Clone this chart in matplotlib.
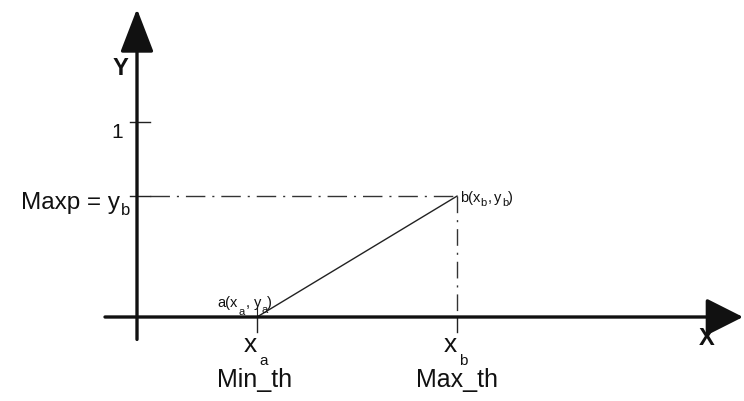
import matplotlib
matplotlib.use("Agg")
import matplotlib.pyplot as plt
from matplotlib.transforms import offset_copy

plt.rcParams['font.family'] = ['Liberation Sans', 'DejaVu Sans']

# data
x_a, y_a = 0.3, 0.0
x_b, y_b = 0.8, 0.62
y_one = 1.0

W, H = 744, 402
fig = plt.figure(figsize=(W/100, H/100), dpi=100)
ax = fig.add_axes([0, 0, 1, 1])
# origin at pixel (137,318); 400 px per x unit, 195 px per y unit
ax.set_xlim(-137/400, (W-137)/400)
ax.set_ylim(-(H-318)/195, 318/195)
ax.axis('off')

renderer = fig.canvas.get_renderer()


def rich(x, y, pieces, ha='left', color='#111111'):
    """pieces: (text, fontsize, dy_px, gap_px_after)"""
    arts = []
    dx = 0.0
    for s, size, dy, gap in pieces:
        t = ax.text(x, y, s, fontsize=size, va='baseline', ha='left', color=color,
                    transform=offset_copy(ax.transData, fig=fig, x=dx, y=dy, units='dots'))
        w = t.get_window_extent(renderer).width
        arts.append((t, dx, dy))
        dx += w + gap
    total = dx
    shift = {'left': 0, 'center': -total/2, 'right': -total}[ha]
    if shift:
        for t, d, dy in arts:
            t.set_transform(offset_copy(ax.transData, fig=fig, x=d + shift, y=dy, units='dots'))


axcol = '#111111'
# X axis
ax.annotate('', xy=(1.515, 0), xytext=(-0.08, 0),
            arrowprops=dict(arrowstyle='-|>,head_length=1.15,head_width=0.58',
                            mutation_scale=20, lw=2.4, color=axcol,
                            shrinkA=0, shrinkB=0))
# Y axis
ax.annotate('', xy=(0, 1.58), xytext=(0, -0.115),
            arrowprops=dict(arrowstyle='-|>,head_length=1.35,head_width=0.52',
                            mutation_scale=20, lw=2.4, color=axcol,
                            shrinkA=0, shrinkB=0))

thin = dict(color='#222222', lw=1.0)
ax.plot([-0.018, 0.033], [y_one, y_one], **thin)
ax.plot([-0.018, 0.033], [y_b, y_b], **thin)
for xv in (x_a, x_b):
    ax.plot([xv, xv], [-0.075, 0.0], **thin)
ax.plot([x_a, x_a], [0, 0.05], color='#222222', lw=0.8)

# dash-dot guides
ax.plot([0.033, x_b], [y_b, y_b], color='#333333', lw=1.0, linestyle=(0, (14, 5, 1.5, 5)))
ax.plot([x_b, x_b], [y_b, 0], color='#333333', lw=1.0, linestyle=(0, (12, 5, 1.5, 5)))

# ramp line
ax.plot([x_a, x_b], [y_a, y_b], color='#222222', lw=1.0)

# labels
ax.text(-0.0425, 1.277, 'Y', fontsize=17, fontweight='bold', ha='center', va='center',
        color=axcol)
ax.text(-0.035, 0.925, '1', fontsize=15, ha='right', va='baseline', color=axcol)
rich(-0.018, 0.56, [('Maxp = y', 17.5, 0, 1), ('b', 12, -6, 0)], ha='right')
ax.text(1.425, -0.138, 'X', fontsize=17, fontweight='bold', ha='center', va='baseline',
        color=axcol)
rich(x_a - 0.003, -0.174, [('x', 19, 0, 2), ('a', 11, -13, 0)], ha='center')
rich(x_b - 0.003, -0.174, [('x', 19, 0, 2), ('b', 11, -13, 0)], ha='center')
ax.text(x_a - 0.005, -0.354, 'Min_th', fontsize=18, ha='center', va='baseline', color=axcol)
ax.text(x_b, -0.354, 'Max_th', fontsize=18, ha='center', va='baseline', color=axcol)
rich(x_b + 0.007, y_b - 0.025,
     [('b(x', 10.5, 0, 0), ('b', 8, -4, 1), (',', 10.5, 0, 3), ('y', 10.5, 0, 0),
      ('b', 8, -4, 0), (')', 10.5, 0, 0)])
rich(x_a - 0.1, 0.057,
     [('a(x', 10.5, 0, 1), ('a', 8, -8, 1), (',', 10.5, 0, 4), ('y', 10.5, 0, 0),
      ('a', 8, -6, 0), (')', 10.5, 0, 0)])

fig.savefig('out.png', dpi=100)
